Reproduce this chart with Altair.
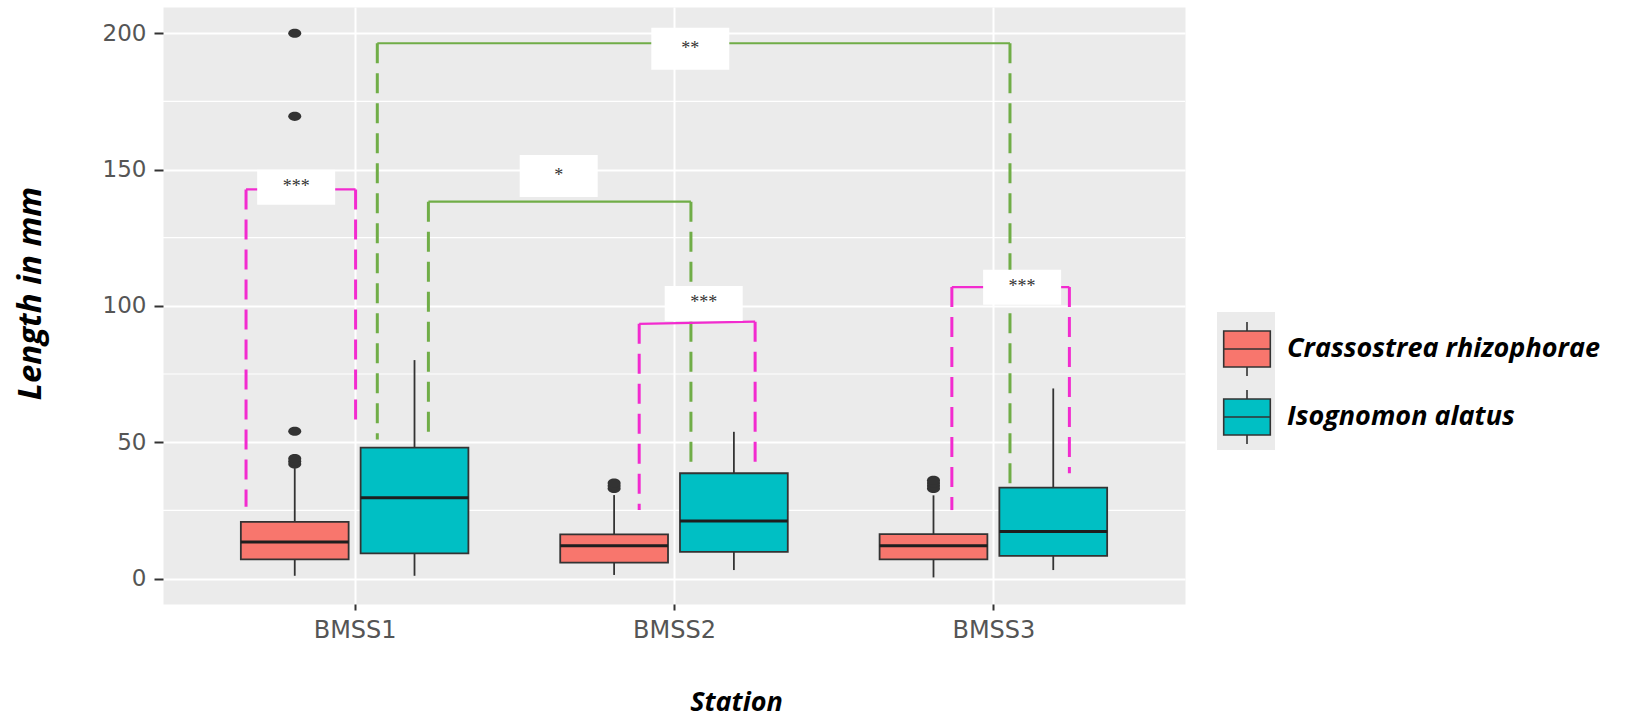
import altair as alt
import pandas as pd

# ---- data -------------------------------------------------------------
stations = ["BMSS1", "BMSS2", "BMSS3"]
species = ["Crassostrea rhizophorae", "Isognomon alatus"]
species_colours = ["#F8766D", "#00BFC4"]

# five-number summaries (length in mm) per station x species
box_station = ["BMSS1", "BMSS1", "BMSS2", "BMSS2", "BMSS3", "BMSS3"]
box_species = [species[0], species[1]] * 3
whisker_low = [1.0, 1.0, 1.3, 3.1, 0.4, 3.1]
q1 = [7.0, 9.2, 5.8, 9.8, 7.0, 8.3]
median = [13.4, 29.6, 12.0, 21.1, 12.0, 17.2]
q3 = [20.8, 48.0, 16.2, 38.6, 16.3, 33.3]
whisker_high = [40.5, 80.1, 30.6, 53.8, 30.5, 69.7]

# points beyond the whiskers
outlier_station = ["BMSS1"] * 6 + ["BMSS2"] * 3 + ["BMSS3"] * 4
outlier_species = [species[0]] * 13
outlier_value = [42, 43, 44, 54, 169.5, 200, 33, 34, 35, 33, 34, 35, 36]

# significance brackets (x in station units, y in mm)
bracket_label = ["***", "**", "*", "***", "***"]
bracket_kind = ["species", "station", "station", "species", "species"]
bracket_x_left = [0.66, 1.071, 1.231, 1.891, 2.870]
bracket_x_right = [1.003, 3.052, 2.053, 2.254, 3.238]
bracket_top_left = [142.7, 196.3, 138.2, 93.4, 106.9]
bracket_top_right = [142.7, 196.3, 138.2, 94.2, 106.9]
bracket_bottom_left = [26.3, 51.0, 53.8, 25.1, 25.1]
bracket_bottom_right = [56.9, 34.3, 39.2, 42.8, 38.6]
label_x = [0.817, 2.051, 1.639, 2.093, 3.090]
label_y = [143.5, 194.3, 147.6, 100.9, 106.8]

major_breaks = [0, 50, 100, 150, 200]
minor_breaks = [25, 75, 125, 175]

# ---- layout helpers ---------------------------------------------------
DODGE = 0.1875
HALF_BOX = 0.16875
bracket_colours = {"species": "#F22BCF", "station": "#70AD47"}


def dodged(station, sp):
    offset = -DODGE if sp == species[0] else DODGE
    return stations.index(station) + 1 + offset


boxes = pd.DataFrame({
    "station": box_station, "species": box_species,
    "whisker_low": whisker_low, "q1": q1, "median": median,
    "q3": q3, "whisker_high": whisker_high,
})
boxes["xc"] = [dodged(s, sp) for s, sp in zip(box_station, box_species)]
boxes["x_lo"] = boxes["xc"] - HALF_BOX
boxes["x_hi"] = boxes["xc"] + HALF_BOX

outliers = pd.DataFrame({"station": outlier_station, "species": outlier_species,
                         "value": outlier_value})
outliers["xc"] = [dodged(s, sp) for s, sp in zip(outlier_station, outlier_species)]

brackets = pd.DataFrame({
    "label": bracket_label, "kind": bracket_kind,
    "x_left": bracket_x_left, "x_right": bracket_x_right,
    "top_left": bracket_top_left, "top_right": bracket_top_right,
    "bottom_left": bracket_bottom_left, "bottom_right": bracket_bottom_right,
    "label_x": label_x, "label_y": label_y,
})
brackets["colour"] = [bracket_colours[k] for k in bracket_kind]

legs = pd.DataFrame({
    "x": bracket_x_left + bracket_x_right,
    "y_top": bracket_top_left + bracket_top_right,
    "y_bot": bracket_bottom_left + bracket_bottom_right,
    "colour": list(brackets["colour"]) * 2,
})

# ---- scales & axes ----------------------------------------------------
x_scale = alt.Scale(domain=[0.4, 3.6], nice=False, zero=False)
y_scale = alt.Scale(domain=[-9.35, 209.6], nice=False, zero=False)

station_names = "[" + ",".join(f"'{s}'" for s in stations) + "]"
x_axis = alt.Axis(
    values=[1, 2, 3], labelExpr=f"{station_names}[datum.value - 1]",
    grid=True, gridColor="white", gridWidth=2, domain=False,
    tickColor="#333333", tickSize=6, tickWidth=2, labelFlush=False,
    labelFont="DejaVu Sans", labelFontSize=24, labelColor="#555555", labelPadding=8,
    title="Station", titleFont="Open Sans", titleFontSize=27, titleFontWeight="bold",
    titleFontStyle="italic", titleColor="black", titleX=573, titleY=106,
    titleAlign="center", titleBaseline="alphabetic",
)
y_axis = alt.Axis(
    values=major_breaks, grid=True, gridColor="white", gridWidth=2, domain=False,
    tickColor="#333333", tickSize=9, tickWidth=2, labelFlush=False,
    labelFont="DejaVu Sans", labelFontSize=23, labelColor="#555555", labelPadding=8,
    title="Length in mm", titleFont="Open Sans", titleFontSize=33, titleFontWeight="bold",
    titleFontStyle="italic", titleColor="black", titleX=-123, titleY=286,
    titleAngle=270, titleAlign="center", titleBaseline="alphabetic",
)


def X(field):
    return alt.X(field, type="quantitative", scale=x_scale, axis=x_axis)


def Y(field):
    return alt.Y(field, type="quantitative", scale=y_scale, axis=y_axis)


# legend: boxplot glyph keys on a light grey key backdrop
box_glyph = ("M-0.863,-0.667H0.863V0.667H-0.863Z"
             "M-0.863,0H0.863M0,-0.667V-1M0,0.667V1")
legend = alt.Legend(
    title=None, orient="none", legendX=1056, legendY=314, padding=0, zindex=2,
    symbolType=box_glyph, symbolSize=2916, symbolStrokeColor="#333333",
    symbolStrokeWidth=1.6, symbolOpacity=1, rowPadding=6,
    labelFont="Open Sans", labelFontSize=27, labelFontWeight="bold",
    labelFontStyle="italic", labelColor="black", labelOffset=12, labelLimit=600,
)
key_backdrop = alt.Legend(
    title=None, orient="none", legendX=1048.5, legendY=305, padding=0, zindex=1,
    symbolType="M-0.84,-1H0.84V1H-0.84Z", symbolSize=4761, symbolFillColor="#EBEBEB",
    symbolStrokeWidth=0, symbolOpacity=1, rowPadding=0,
    labelOpacity=0, labelFontSize=2,
)

ellipse = "M-1,0A1,0.7,0,1,0,1,0A1,0.7,0,1,0,-1,0Z"

# ---- layers -----------------------------------------------------------
minor_grid = alt.Chart(pd.DataFrame({"y": minor_breaks})).mark_rule(
    color="white", strokeWidth=1.1).encode(y=Y("y"))

box_base = alt.Chart(boxes)
backdrop_carrier = box_base.mark_point(
    filled=True, size=0, strokeWidth=0, color="#EBEBEB").encode(
    x=X("xc"), y=Y("median"),
    opacity=alt.Opacity("species:N", scale=alt.Scale(range=[1, 1]), legend=key_backdrop))
whisk_up = box_base.mark_rule(color="#333333", strokeWidth=1.8).encode(
    x=X("xc"), y=Y("q3"), y2="whisker_high")
whisk_lo = box_base.mark_rule(color="#333333", strokeWidth=1.8).encode(
    x=X("xc"), y=Y("whisker_low"), y2="q1")
box_rects = box_base.mark_rect(stroke="#333333", strokeWidth=1.8).encode(
    x=X("x_lo"), x2="x_hi", y=Y("q1"), y2="q3",
    fill=alt.Fill("species:N", scale=alt.Scale(domain=species, range=species_colours),
                  legend=legend))
medians = box_base.mark_rule(color="#1E1E1E", strokeWidth=3).encode(
    x=X("x_lo"), x2="x_hi", y=Y("median"))
points = alt.Chart(outliers).mark_point(
    filled=True, shape=ellipse, size=169, color="#333333", opacity=1).encode(
    x=X("xc"), y=Y("value"))

bracket_legs = alt.Chart(legs).mark_rule(strokeDash=[20, 10], strokeWidth=3).encode(
    x=X("x"), y=Y("y_top"), y2="y_bot", color=alt.Color("colour:N", scale=None))
bracket_bars = alt.Chart(brackets).mark_rule(strokeWidth=2.2).encode(
    x=X("x_left"), x2="x_right", y=Y("top_left"), y2="top_right",
    color=alt.Color("colour:N", scale=None))
label_boxes_species = alt.Chart(brackets).transform_filter(
    alt.datum.kind == "species").mark_rect(fill="white", width=78, height=35).encode(
    x=X("label_x"), y=Y("label_y"))
label_boxes_station = alt.Chart(brackets).transform_filter(
    alt.datum.kind == "station").mark_rect(fill="white", width=78, height=42).encode(
    x=X("label_x"), y=Y("label_y"))
label_text = alt.Chart(brackets).mark_text(
    font="Liberation Serif", fontSize=18, color="#333333", baseline="middle",
    align="center").encode(x=X("label_x"), y=Y("label_y"), text="label:N")

chart = alt.layer(
    minor_grid, backdrop_carrier, whisk_up, whisk_lo, box_rects, medians, points,
    bracket_legs, bracket_bars, label_boxes_species, label_boxes_station, label_text,
).properties(
    width=1022, height=597,
    padding={"left": 163, "top": 7, "right": 456, "bottom": 115},
    autosize=alt.AutoSizeParams(type="none"),
    background="white",
).configure_view(fill="#EBEBEB", stroke="transparent")

chart.save("out.html", embed_options={"renderer": "svg", "actions": False})
